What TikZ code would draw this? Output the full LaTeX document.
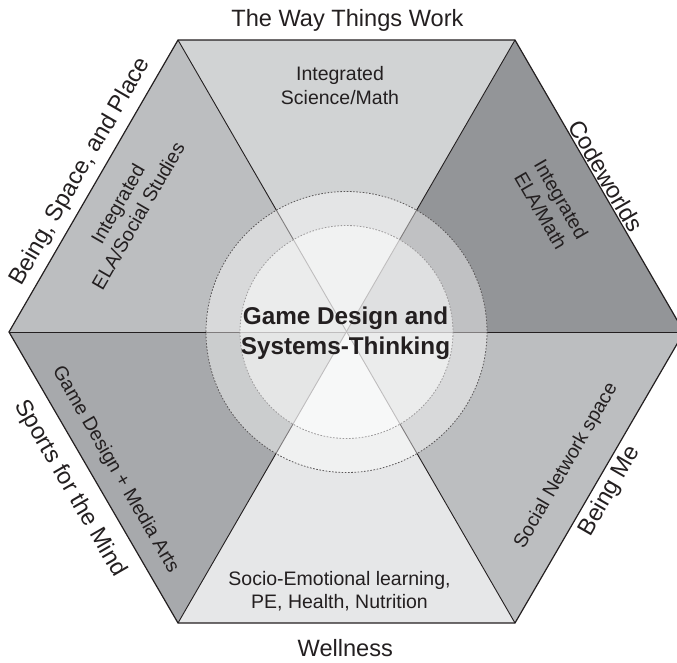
\documentclass[tikz,border=0pt]{standalone}
\usepackage{fontspec}
\setmainfont{Liberation Sans}
\definecolor{ink}{HTML}{231F20}
\definecolor{cTop}{HTML}{D1D3D4}
\definecolor{cTL}{HTML}{BCBEC0}
\definecolor{cTR}{HTML}{939598}
\definecolor{cBL}{HTML}{A7A9AC}
\definecolor{cBR}{HTML}{BCBEC0}
\definecolor{cBot}{HTML}{E6E7E8}
\begin{document}
\begin{tikzpicture}[x=1pt,y=-1pt,
  edgeline/.style={draw=ink,line width=1.2pt,line join=miter},
  spoke/.style={draw=ink,line width=0.9pt},
  biglabel/.style={font=\fontsize{23.6}{28}\selectfont,text=ink,inner sep=0pt,anchor=base},
  smalllabel/.style={font=\fontsize{19.5}{23.5}\selectfont,text=ink,inner sep=0pt,anchor=base},
  titlelabel/.style={font=\fontsize{24.3}{30}\selectfont\bfseries,text=ink,inner sep=0pt,anchor=base},
  dotring/.style={dash pattern=on 1.6pt off 1.6pt,line width=0.8pt}]
\useasboundingbox (0,0) rectangle (677,662);
\clip (0,0) rectangle (677,662);
\coordinate (C) at (346.5,332);
\coordinate (TL) at (178,40);
\coordinate (TR) at (515,40);
\coordinate (R) at (684,332);
\coordinate (BR) at (515,623);
\coordinate (BL) at (178,623);
\coordinate (L) at (9,332);
% sectors
\fill[cTop] (C) -- (TL) -- (TR) -- cycle;
\fill[cTR] (C) -- (TR) -- (R) -- cycle;
\fill[cBR] (C) -- (R) -- (BR) -- cycle;
\fill[cBot] (C) -- (BR) -- (BL) -- cycle;
\fill[cBL] (C) -- (BL) -- (L) -- cycle;
\fill[cTL] (C) -- (L) -- (TL) -- cycle;
% spokes
\draw[spoke] (TL) -- (BR);
\draw[spoke] (TR) -- (BL);
\draw[spoke] (L) -- (R);
% outline
\draw[edgeline] (TL) -- (TR) -- (R) -- (BR) -- (BL) -- (L) -- cycle;
% circles overlay
\fill[white,opacity=0.42] (C) circle[radius=140.5];
\fill[white,opacity=0.5] (C) circle[radius=106.5];
\draw[dotring,draw=ink!75] (C) circle[radius=140.5];
\draw[dotring,draw=ink!45] (C) circle[radius=106.5];
% outer labels
\node[biglabel] (top) at (347.4,26.7) {The Way Things Work};
\node[biglabel] (bottom) at (345.3,656.7) {Wellness};
\begin{scope}[shift={(78.6,170.7)},rotate=60,transform shape]
  \node[biglabel] (bsp) at (0,8.3) {Being, Space, and Place};
\end{scope}
\begin{scope}[shift={(606,176)},rotate=-60,transform shape]
  \node[biglabel] (code) at (0,8.3) {Codeworlds};
\end{scope}
\begin{scope}[shift={(72,487.5)},rotate=-60,transform shape]
  \node[biglabel] (sports) at (0,8.3) {Sports for the Mind};
\end{scope}
\begin{scope}[shift={(608,490)},rotate=60,transform shape]
  \node[biglabel] (beingme) at (0,8.3) {Being Me};
\end{scope}
% inner labels
\node[smalllabel] (sci1) at (340,80.7) {Integrated};
\node[smalllabel] (sci2) at (340,104) {Science/Math};
\node[smalllabel] (soc1) at (339.5,585) {Socio-Emotional learning,};
\node[smalllabel] (soc2) at (339.5,608) {PE, Health, Nutrition};
\begin{scope}[shift={(128,210)},rotate=60,transform shape]
  \node[smalllabel] (elas1) at (0,-4.95) {Integrated};
  \node[smalllabel] (elas2) at (0,18.55) {ELA/Social Studies};
\end{scope}
\begin{scope}[shift={(551,205)},rotate=-60,transform shape]
  \node[smalllabel] (elam1) at (0,-4.95) {Integrated};
  \node[smalllabel] (elam2) at (0,18.55) {ELA/Math};
\end{scope}
\begin{scope}[shift={(116.8,469)},rotate=-60,transform shape]
  \node[smalllabel] (gdma) at (0,6.8) {Game Design + Media Arts};
\end{scope}
\begin{scope}[shift={(564.8,465)},rotate=60,transform shape]
  \node[smalllabel] (sns) at (0,6.8) {Social Network space};
\end{scope}
% title
\node[titlelabel] (title1) at (345.5,324) {Game Design and};
\node[titlelabel] (title2) at (345.5,354) {Systems-Thinking};
\end{tikzpicture}
\end{document}
